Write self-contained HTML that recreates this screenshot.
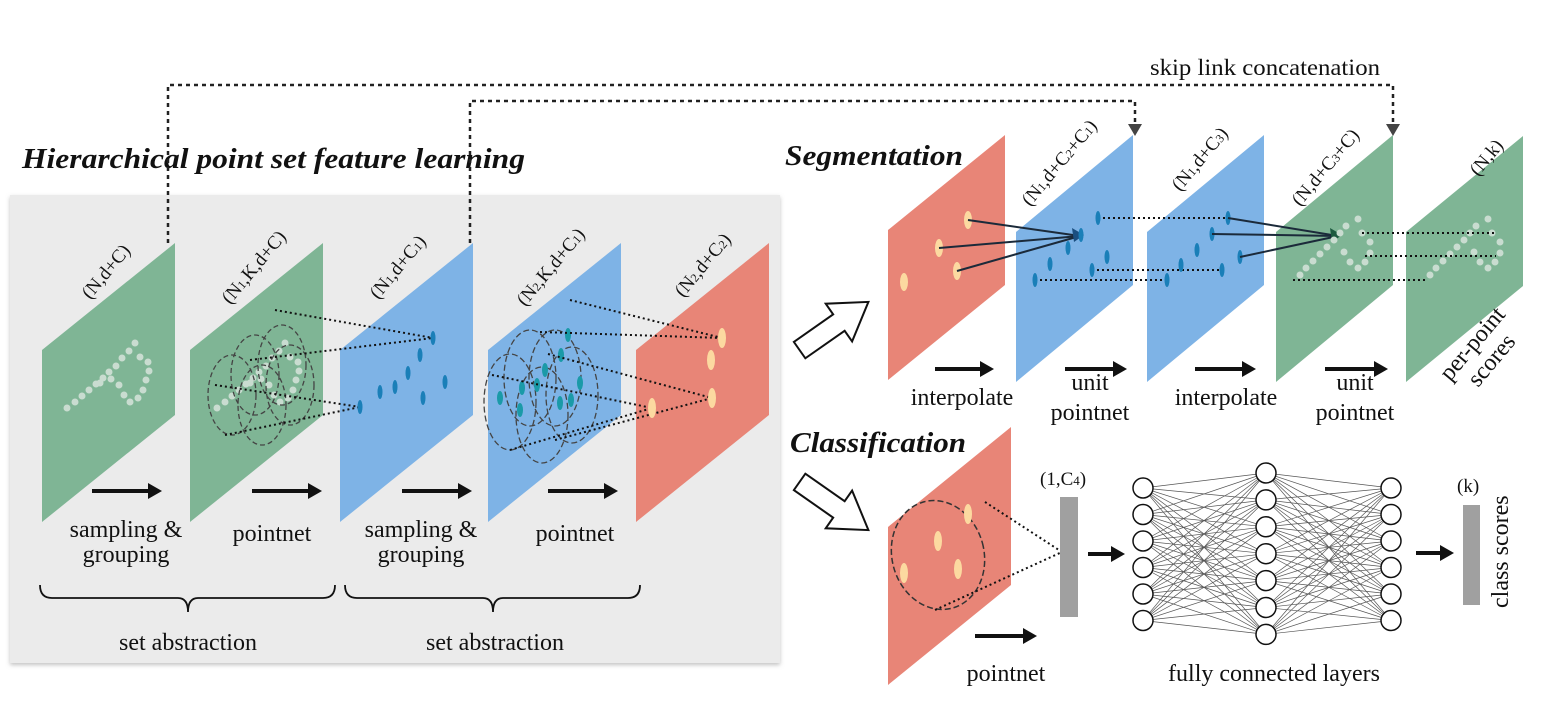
<!DOCTYPE html>
<html><head><meta charset="utf-8"><style>
html,body{margin:0;padding:0;background:#fff;}
svg{display:block;}
text{font-family:"Liberation Serif",serif;fill:#111;}
.t{font-size:24px;}
.h{font-size:29px;font-weight:bold;font-style:italic;}
.s{font-size:19px;}
</style></head><body>
<svg id="s" width="1550" height="707" viewBox="0 0 1550 707" xmlns="http://www.w3.org/2000/svg">
<defs>
<filter id="sh" x="-5%" y="-5%" width="110%" height="110%"><feDropShadow dx="0" dy="2" stdDeviation="2" flood-color="#999" flood-opacity="0.6"/></filter>
</defs>
<rect x="10" y="195" width="770" height="468" fill="#ebebeb" filter="url(#sh)"/>
<g id="g"></g>
<text class="h" x="22" y="168" textLength="503" lengthAdjust="spacingAndGlyphs">Hierarchical point set feature learning</text>
<text class="h" x="785" y="165" font-size="27" textLength="178" lengthAdjust="spacingAndGlyphs">Segmentation</text>
<text class="h" x="790" y="452" font-size="27" textLength="176" lengthAdjust="spacingAndGlyphs">Classification</text>
<text x="1150" y="75" font-size="23" textLength="230" lengthAdjust="spacingAndGlyphs">skip link concatenation</text>
<path d="M168,243 V85 H1393 V128" fill="none" stroke="#222" stroke-width="2.5" stroke-dasharray="4,4"/>
<path d="M470,243 V101 H1135 V128" fill="none" stroke="#222" stroke-width="2.5" stroke-dasharray="4,4"/>
<path d="M1128,124 L1142,124 L1135,136 z M1386,124 L1400,124 L1393,136 z" fill="#444"/>
<g class="t" text-anchor="middle">
<text x="126" y="537">sampling &amp;</text><text x="126" y="562">grouping</text>
<text x="272" y="541">pointnet</text>
<text x="421" y="537">sampling &amp;</text><text x="421" y="562">grouping</text>
<text x="575" y="541">pointnet</text>
<text x="188" y="650">set abstraction</text>
<text x="495" y="650">set abstraction</text>
<text x="962" y="405">interpolate</text>
<text x="1090" y="390">unit</text><text x="1090" y="420">pointnet</text>
<text x="1226" y="405">interpolate</text>
<text x="1355" y="390">unit</text><text x="1355" y="420">pointnet</text>
<text x="1006" y="681">pointnet</text>
<text x="1274" y="681">fully connected layers</text>
</g>
<text class="s" x="1040" y="485">(1,C<tspan font-size="13">4</tspan>)</text>
<text class="s" x="1457" y="492">(k)</text>
<text class="t" transform="translate(1508,608) rotate(-90)">class scores</text>
<text class="t" transform="translate(1450,382) rotate(-50)">per-point</text>
<text class="t" transform="translate(1478,388) rotate(-50)">scores</text>
</svg>
<script>
var g=document.getElementById('g'),h='';
function pl(x0,yl,yr,w,hh,c){h+='<polygon points="'+x0+','+yl+' '+(x0+w)+','+yr+' '+(x0+w)+','+(yr+hh)+' '+x0+','+(yl+hh)+'" fill="'+c+'"/>';}
function el(x,y,rx,ry,c){h+='<ellipse cx="'+x+'" cy="'+y+'" rx="'+rx+'" ry="'+ry+'" fill="'+c+'"/>';}
function ln(a,b,c,d,col,w,da){h+='<line x1="'+a+'" y1="'+b+'" x2="'+c+'" y2="'+d+'" stroke="'+col+'" stroke-width="'+w+'"'+(da?' stroke-dasharray="'+da+'"':'')+'/>';}
function lbl(x,y,t){h+='<text class="s" transform="translate('+x+','+y+') rotate(-50)">'+t+'</text>';}
function arr(x1,x2,y){h+='<line x1="'+x1+'" y1="'+y+'" x2="'+(x2-12)+'" y2="'+y+'" stroke="#111" stroke-width="4"/><path d="M'+(x2-14)+','+(y-8)+' L'+x2+','+y+' L'+(x2-14)+','+(y+8)+' z" fill="#111"/>';}
var G='#7fb595',B='#7eb3e6',R='#e88577',Y='#fcd9a0',D='#1a7fb8',W='#c9dcd0',dot='2,3';
[[42,G],[190,G],[340,B],[488,B],[636,R]].forEach(function(p){pl(p[0],350,243,133,172,p[1]);});
var sb=function(s){return '<tspan font-size="12">'+s+'</tspan>';};
lbl(90,300,'(N,d+C)');lbl(230,305,'(N'+sb(1)+',K,d+C)');lbl(378,300,'(N'+sb(1)+',d+C'+sb(1)+')');lbl(525,307,'(N'+sb(2)+',K,d+C'+sb(1)+')');lbl(683,298,'(N'+sb(2)+',d+C'+sb(2)+')');
var pts=[[67,408],[75,402],[82,396],[89,390],[96,384],[103,378],[109,372],[116,366],[122,358],[129,351],[135,343],[140,357],[148,362],[149,371],[146,380],[143,390],[138,398],[130,402],[124,395],[119,385],[111,379],[100,383]];
pts.forEach(function(p){el(p[0],p[1],3.5,3.5,W);el(p[0]+150,p[1],3.5,3.5,W);});
[[232,395],[255,375],[282,365],[262,405],[290,385]].forEach(function(c){h+='<ellipse cx="'+c[0]+'" cy="'+c[1]+'" rx="24" ry="40" fill="none" stroke="#444" stroke-dasharray="5,3" stroke-width="1.3"/>';});
ln(275,310,433,338,'#111',2,dot);ln(250,360,433,338,'#111',2,dot);ln(215,385,360,407,'#111',2,dot);ln(225,435,360,407,'#111',2,dot);
[[433,338],[420,355],[408,373],[395,387],[380,392],[445,382],[423,398],[360,407]].forEach(function(p){el(p[0],p[1],2.5,7,D);});
[[510,402],[530,378],[555,378],[542,415],[572,395]].forEach(function(c){h+='<ellipse cx="'+c[0]+'" cy="'+c[1]+'" rx="26" ry="48" fill="none" stroke="#444" stroke-dasharray="6,3" stroke-width="1.3"/>';});
[[568,335],[561,355],[545,370],[537,385],[522,388],[580,383],[571,400],[560,403],[520,410],[500,398]].forEach(function(p){el(p[0],p[1],3,7,'#1a9aa8');});
ln(570,300,722,338,'#111',2,dot);ln(540,332,722,338,'#111',2,dot);ln(548,354,712,398,'#111',2,dot);ln(555,440,712,398,'#111',2,dot);
ln(492,375,652,408,'#111',2,dot);ln(510,450,652,408,'#111',2,dot);
el(722,338,4,10,Y);el(711,360,4,10,Y);el(712,398,4,10,Y);el(652,408,4,10,Y);
arr(92,162,491);arr(252,322,491);arr(402,472,491);arr(548,618,491);
h+='<path d="M40,585 q0,13 12,13 H178 q10,0 10,14 q0,-14 10,-14 H323 q12,0 12,-13 M345,585 q0,13 12,13 H483 q10,0 10,14 q0,-14 10,-14 H628 q12,0 12,-13" fill="none" stroke="#111" stroke-width="1.8"/>';
function harr(cx,cy,ang){h+='<polygon transform="translate('+cx+','+cy+') rotate('+ang+')" points="-42,-10 6,-10 6,-23 42,0 6,23 6,10 -42,10" fill="#fff" stroke="#111" stroke-width="2"/>';}
harr(834,326,-35);harr(834,506,35);
pl(888,230,135,117,150,R);pl(1016,232,135,117,150,B);pl(1147,232,135,117,150,B);pl(1276,232,135,117,150,G);pl(1406,232,136,117,150,G);
lbl(1030,207,'(N'+sb(1)+',d+C'+sb(2)+'+C'+sb(1)+')');
lbl(1180,192,'(N'+sb(1)+',d+C'+sb(3)+')');
lbl(1300,207,'(N,d+C'+sb(3)+'+C)');
lbl(1478,177,'(N,k)');
el(968,220,4,9,Y);el(939,248,4,9,Y);el(957,271,4,9,Y);el(904,282,4,9,Y);
ln(968,220,1080,236,'#1b2a3a',2);ln(939,248,1080,236,'#1b2a3a',2);ln(957,271,1080,236,'#1b2a3a',2);
h+='<path d="M1072,228 L1084,235 L1074,242 z" fill="#1b4f80"/>';
ln(1098,218,1228,218,'#111',2,dot);ln(1092,270,1222,270,'#111',2,dot);ln(1035,280,1167,280,'#111',2,dot);
[[1081,235],[1098,218],[1068,248],[1050,264],[1107,257],[1092,270],[1035,280],[1228,218],[1212,234],[1197,250],[1181,265],[1222,270],[1167,280],[1240,257]].forEach(function(p){el(p[0],p[1],2.5,7,D);});
ln(1228,218,1338,236,'#1b2a3a',2);ln(1212,234,1338,236,'#1b2a3a',2);ln(1240,257,1338,236,'#1b2a3a',2);
h+='<path d="M1330,228 L1342,235 L1332,242 z" fill="#1d5a40"/>';
var sp=[[1300,275],[1306,268],[1313,261],[1320,254],[1327,247],[1334,240],[1340,233],[1346,226],[1358,219],[1362,233],[1370,242],[1370,253],[1365,262],[1358,268],[1350,262],[1344,252]];
sp.forEach(function(p){el(p[0],p[1],3.5,3.5,W);el(p[0]+130,p[1],3.5,3.5,W);});
ln(1362,233,1496,233,'#111',2,dot);ln(1365,256,1496,256,'#111',2,dot);ln(1293,280,1425,280,'#111',2,dot);
arr(935,994,369);arr(1065,1127,369);arr(1195,1256,369);arr(1325,1388,369);
pl(888,527,427,123,158,R);
h+='<ellipse cx="938" cy="555" rx="46" ry="55" transform="rotate(-15 938 555)" fill="none" stroke="#333" stroke-dasharray="6,3" stroke-width="1.5"/>';
el(968,514,4,10,Y);el(938,541,4,10,Y);el(958,569,4,10,Y);el(904,573,4,10,Y);
ln(985,502,1062,552,'#111',2,dot);ln(935,610,1062,552,'#111',2,dot);
h+='<rect x="1060" y="497" width="18" height="120" fill="#a0a0a0"/><rect x="1463" y="505" width="17" height="100" fill="#a0a0a0"/>';
arr(1088,1125,554);arr(975,1037,636);arr(1416,1454,553);
var c1=[],c2=[],c3=[],i,j;
for(i=0;i<6;i++){c1.push([1143,488+i*26.5]);c3.push([1391,488+i*26.5]);}
for(i=0;i<7;i++)c2.push([1266,473+i*26.9]);
for(i=0;i<6;i++)for(j=0;j<7;j++){ln(c1[i][0],c1[i][1],c2[j][0],c2[j][1],'#555',0.7);ln(c2[j][0],c2[j][1],c3[i][0],c3[i][1],'#555',0.7);}
c1.concat(c2,c3).forEach(function(p){h+='<circle cx="'+p[0]+'" cy="'+p[1]+'" r="10" fill="#fff" stroke="#111" stroke-width="1.5"/>';});
g.innerHTML=h;
</script>
</body></html>
